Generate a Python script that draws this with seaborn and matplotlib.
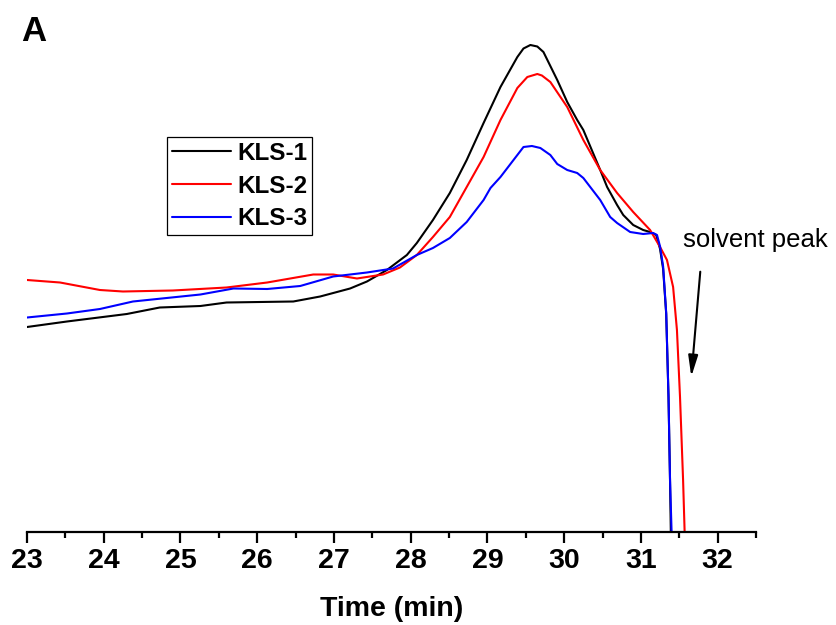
import numpy as np
import pandas as pd
import seaborn as sns
import matplotlib.pyplot as plt
from matplotlib.ticker import MultipleLocator

# ===== DATA (arbitrary signal units) =====
kls1_time = [23.00, 23.52, 24.30, 24.73, 25.26, 25.60, 26.47, 26.82, 27.21, 27.43,
             27.69, 27.95, 28.08, 28.29, 28.51, 28.73, 28.95, 29.17, 29.39, 29.47,
             29.56, 29.65, 29.73, 29.91, 30.04, 30.17, 30.25, 30.47, 30.56, 30.69,
             30.77, 30.90, 31.03, 31.12, 31.20, 31.25, 31.29, 31.33, 31.36, 31.38, 31.40]
kls1_signal = [40.9, 42.0, 43.5, 44.8, 45.1, 45.8, 46.0, 47.0, 48.6, 50.0,
               52.3, 55.3, 57.7, 62.3, 67.7, 74.3, 81.7, 88.9, 94.9, 96.6,
               97.3, 97.0, 95.9, 90.3, 85.9, 82.3, 80.3, 72.3, 68.9, 65.3,
               63.3, 61.3, 60.3, 59.9, 59.3, 56.5, 52.5, 43.5, 27.0, 10.0, -10.0]

kls2_time = [23.00, 23.43, 23.95, 24.25, 24.90, 25.60, 26.13, 26.73, 26.99, 27.30,
             27.64, 27.86, 28.08, 28.29, 28.51, 28.73, 28.95, 29.17, 29.39, 29.52,
             29.65, 29.71, 29.82, 30.04, 30.25, 30.47, 30.69, 30.90, 31.12, 31.25,
             31.34, 31.42, 31.47, 31.51, 31.55, 31.57, 31.59]
kls2_signal = [50.3, 49.8, 48.3, 48.0, 48.2, 48.8, 49.8, 51.4, 51.4, 50.6,
               51.4, 52.8, 55.3, 58.9, 62.9, 68.9, 74.9, 82.3, 88.7, 90.9,
               91.5, 91.2, 89.9, 84.9, 78.3, 72.3, 67.7, 63.9, 60.3, 56.9,
               54.3, 48.9, 40.3, 26.9, 10.3, 0.0, -10.0]

kls3_time = [23.00, 23.52, 23.95, 24.38, 25.26, 25.69, 26.13, 26.56, 26.99, 27.43,
             27.77, 28.08, 28.29, 28.51, 28.73, 28.95, 29.04, 29.17, 29.39, 29.47,
             29.58, 29.69, 29.82, 29.91, 30.04, 30.17, 30.25, 30.34, 30.47, 30.60,
             30.69, 30.86, 31.03, 31.16, 31.21, 31.25, 31.29, 31.33, 31.36, 31.38,
             31.40, 31.41]
kls3_signal = [42.8, 43.6, 44.5, 46.0, 47.4, 48.6, 48.5, 49.1, 51.0, 51.8,
               52.6, 55.3, 56.7, 58.7, 61.9, 66.3, 68.7, 70.9, 75.3, 76.9,
               77.1, 76.7, 75.3, 73.5, 72.3, 71.7, 70.7, 68.9, 66.3, 62.9,
               61.7, 59.9, 59.5, 59.7, 59.3, 57.0, 53.0, 43.7, 26.9, 10.3,
               0.0, -10.0]

series_names = ["KLS-1", "KLS-2", "KLS-3"]
series_colors = ["#000000", "#ff0000", "#0000ff"]
x_ticks = [23, 24, 25, 26, 27, 28, 29, 30, 31, 32]

df = pd.concat([
    pd.DataFrame({"time": kls1_time, "signal": kls1_signal, "sample": "KLS-1"}),
    pd.DataFrame({"time": kls2_time, "signal": kls2_signal, "sample": "KLS-2"}),
    pd.DataFrame({"time": kls3_time, "signal": kls3_signal, "sample": "KLS-3"}),
], ignore_index=True)

# ===== STYLE =====
sns.set_style("ticks", {"axes.edgecolor": "black", "text.color": "black",
                        "xtick.color": "black", "axes.labelcolor": "black"})
plt.rcParams['font.family'] = ['Liberation Sans', 'DejaVu Sans']
narrow = ['Liberation Sans Narrow', 'Liberation Sans', 'DejaVu Sans']

fig = plt.figure(figsize=(8.37, 6.25), dpi=100)
ax = fig.add_axes([0.0323, 0.1496, 0.8709, 0.8264])

sns.lineplot(data=df, x="time", y="signal", hue="sample", sort=False,
             hue_order=series_names, palette=series_colors,
             linewidth=1.5, estimator=None, ax=ax)

ax.set_xlim(23, 32.5)
ax.set_ylim(0, 103.3)
ax.set_yticks([])
ax.set_ylabel("")
sns.despine(ax=ax, left=True)
ax.spines['bottom'].set_linewidth(1.6)
ax.spines['bottom'].set_color('black')

ax.set_xticks(x_ticks)
ax.xaxis.set_minor_locator(MultipleLocator(0.5))
ax.tick_params(axis='x', which='major', length=8, width=1.6, pad=4,
               direction='out', labelsize=20.5, colors='black')
ax.tick_params(axis='x', which='minor', length=4.5, width=1.6, direction='out',
               colors='black')
for lab in ax.get_xticklabels():
    lab.set_fontfamily(narrow)
    lab.set_fontweight('bold')

ax.set_xlabel("Time (min)", fontsize=20.5, fontweight='bold', family=narrow,
              color='black', labelpad=16)

# legend
leg = ax.legend(loc='upper left', bbox_to_anchor=(167 / 837, 1 - 137 / 625),
                bbox_transform=fig.transFigure, borderaxespad=0,
                prop={'weight': 'bold', 'size': 17.5},
                handlelength=2.45, handletextpad=0.25, borderpad=0.2,
                labelspacing=0.4, fancybox=False, framealpha=1,
                edgecolor='black')
leg.get_frame().set_linewidth(0.9)
for line in leg.get_lines():
    line.set_linewidth(1.5)
for t in leg.get_texts():
    t.set_color('black')

# solvent peak annotation
ax.annotate("", xy=(31.657, 30.96), xytext=(31.774, 51.96),
            arrowprops=dict(arrowstyle='-|>,head_length=0.7,head_width=0.16',
                            color='black', lw=1.5,
                            mutation_scale=18, shrinkA=0, shrinkB=0))
ax.text(31.553, 56.9, "solvent peak", fontsize=18.5, ha='left', va='baseline',
        color='black', clip_on=False)

fig.text(0.025, 1 - 41 / 625, "A", fontsize=25, fontweight='bold',
         color='black', ha='left', va='baseline')

fig.savefig("out.png", dpi=100)
